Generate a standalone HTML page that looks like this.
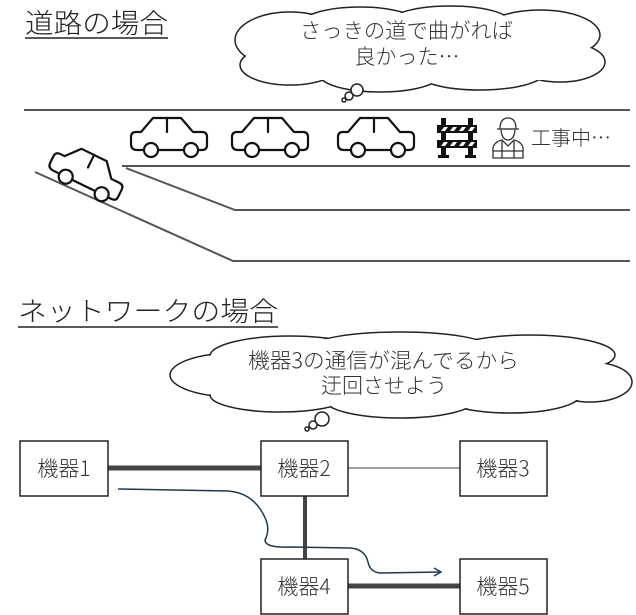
<!DOCTYPE html>
<html><head><meta charset="utf-8"><style>
body{margin:0;background:#fff;}
svg{display:block;font-family:"Noto Sans CJK JP","Liberation Sans",sans-serif;}
</style></head><body>
<svg width="636" height="615" viewBox="0 0 636 615" xmlns="http://www.w3.org/2000/svg">
<defs>
<g id="car" fill="none" stroke="#111" stroke-width="2.2" stroke-linejoin="round" stroke-linecap="round">
<path d="M14,34 L8,34 Q2,34 2,28 L2,21 Q2,16 7,16 L12,16 L24,2 L52,2 L64,16 L73,16 Q78,16 78,21 L78,29 Q78,34 73,34 L70,34"/>
<line x1="38" y1="2" x2="38" y2="16"/>
<line x1="29" y1="34" x2="55" y2="34"/>
<circle cx="22" cy="34" r="7" fill="#fff"/>
<circle cx="62" cy="34" r="7" fill="#fff"/>
</g>
</defs>
<!-- titles -->
<text x="25" y="33" font-size="27" font-weight="300" fill="#222" textLength="143" lengthAdjust="spacingAndGlyphs">道路の場合</text>
<line x1="25" y1="38" x2="168" y2="38" stroke="#222" stroke-width="1.5"/>
<text x="18" y="321" font-size="27" font-weight="300" fill="#222" textLength="260" lengthAdjust="spacingAndGlyphs">ネットワークの場合</text>
<line x1="18" y1="327" x2="278" y2="327" stroke="#222" stroke-width="1.5"/>

<!-- cloud 1 -->
<g stroke="#222" stroke-width="1.5" fill="#fff">
<g>
<ellipse cx="290" cy="40" rx="55" ry="28"/><ellipse cx="360" cy="25" rx="60" ry="18"/><ellipse cx="450" cy="22" rx="60" ry="16"/><ellipse cx="540" cy="35" rx="60" ry="25"/><ellipse cx="560" cy="62" rx="45" ry="20"/><ellipse cx="480" cy="72" rx="65" ry="18"/><ellipse cx="380" cy="75" rx="60" ry="17"/><ellipse cx="290" cy="65" rx="50" ry="20"/>
</g>
<g stroke="none">
<ellipse cx="290" cy="40" rx="54" ry="27"/><ellipse cx="360" cy="25" rx="59" ry="17"/><ellipse cx="450" cy="22" rx="59" ry="15"/><ellipse cx="540" cy="35" rx="59" ry="24"/><ellipse cx="560" cy="62" rx="44" ry="19"/><ellipse cx="480" cy="72" rx="64" ry="17"/><ellipse cx="380" cy="75" rx="59" ry="16"/><ellipse cx="290" cy="65" rx="49" ry="19"/>
<rect x="270" y="25" width="300" height="55"/>
</g>
<circle cx="357" cy="90" r="6"/><circle cx="349" cy="96" r="4"/><circle cx="344" cy="100" r="2"/>
</g>
<text x="300" y="38" font-size="21" font-weight="300" fill="#333" textLength="213" lengthAdjust="spacingAndGlyphs">さっきの道で曲がれば</text>
<text x="407" y="64" font-size="21" font-weight="300" fill="#333" text-anchor="middle">良かった…</text>

<!-- road -->
<g stroke="#555" stroke-width="2" fill="none">
<line x1="24" y1="110" x2="630" y2="110"/>
<polyline points="122,166 630,166"/>
<polyline points="126,168 235,210 630,210"/>
<polyline points="35,172 233,261 630,261"/>
</g>
<use href="#car" x="129" y="116"/>
<use href="#car" x="230" y="116"/>
<use href="#car" x="336" y="116"/>
<g transform="translate(88,172) rotate(26) translate(-40,-20)"><use href="#car"/></g>

<!-- barricade -->
<g fill="#111">
<rect x="441" y="118" width="5" height="39"/><rect x="468" y="118" width="5" height="39"/>
<rect x="437" y="125" width="40" height="8"/><rect x="437" y="140" width="40" height="8"/>
<rect x="438" y="155" width="11" height="3"/><rect x="465" y="155" width="11" height="3"/>
</g>
<g fill="#fff">
<polygon points="444,127 448,127 445,131 441,131"/><polygon points="453,127 457,127 454,131 450,131"/><polygon points="462,127 466,127 463,131 459,131"/><polygon points="471,127 475,127 472,131 468,131"/>
<polygon points="444,142 448,142 445,146 441,146"/><polygon points="453,142 457,142 454,146 450,146"/><polygon points="462,142 466,142 463,146 459,146"/><polygon points="471,142 475,142 472,146 468,146"/>
</g>
<!-- worker -->
<g fill="none" stroke="#333" stroke-width="1.3">
<path d="M500,129 Q500,118 508,118 Q516,118 516,129 Z"/><line x1="497" y1="129" x2="519" y2="129"/>
<path d="M501,130 Q502,140 508,140 Q514,140 515,130"/>
<path d="M493,158 L493,148 Q494,142 502,140 L508,146 L514,140 Q522,142 523,148 L523,158 Z"/>
<line x1="502" y1="141" x2="502" y2="158"/><line x1="514" y1="141" x2="514" y2="158"/><line x1="493" y1="151" x2="523" y2="151"/>
</g>
<text x="531" y="145" font-size="20" font-weight="300" fill="#333">工事中…</text>

<!-- cloud 2 -->
<g stroke="#222" stroke-width="1.5" fill="#fff">
<g>
<ellipse cx="235" cy="375" rx="65" ry="22"/><ellipse cx="290" cy="356" rx="80" ry="20"/><ellipse cx="400" cy="348" rx="90" ry="16"/><ellipse cx="530" cy="355" rx="85" ry="20"/><ellipse cx="590" cy="382" rx="42" ry="20"/><ellipse cx="510" cy="395" rx="70" ry="18"/><ellipse cx="400" cy="400" rx="75" ry="18"/><ellipse cx="280" cy="395" rx="70" ry="17"/>
</g>
<g stroke="none">
<ellipse cx="235" cy="375" rx="64" ry="21"/><ellipse cx="290" cy="356" rx="79" ry="19"/><ellipse cx="400" cy="348" rx="89" ry="15"/><ellipse cx="530" cy="355" rx="84" ry="19"/><ellipse cx="590" cy="382" rx="41" ry="19"/><ellipse cx="510" cy="395" rx="69" ry="17"/><ellipse cx="400" cy="400" rx="74" ry="17"/><ellipse cx="280" cy="395" rx="69" ry="16"/>
<rect x="230" y="345" width="360" height="55"/>
</g>
<circle cx="322" cy="419" r="7"/><circle cx="313" cy="425" r="4"/><circle cx="307" cy="429" r="2"/>
</g>
<text x="248" y="368" font-size="21" font-weight="300" fill="#333" textLength="271" lengthAdjust="spacingAndGlyphs">機器3の通信が混んでるから</text>
<text x="384" y="393" font-size="21" font-weight="300" fill="#333" text-anchor="middle">迂回させよう</text>

<!-- network links -->
<line x1="108" y1="468" x2="261" y2="468" stroke="#444" stroke-width="5"/>
<line x1="348" y1="468" x2="460" y2="468" stroke="#666" stroke-width="1.2"/>
<line x1="305" y1="496" x2="305" y2="559" stroke="#444" stroke-width="4"/>
<line x1="348" y1="586" x2="460" y2="586" stroke="#444" stroke-width="5"/>
<!-- boxes -->
<g fill="#fff" stroke="#222" stroke-width="1.5">
<rect x="20" y="441" width="88" height="55"/><rect x="261" y="441" width="87" height="55"/><rect x="460" y="441" width="87" height="55"/>
<rect x="261" y="559" width="87" height="55"/><rect x="460" y="559" width="87" height="55"/>
</g>
<g font-size="21" font-weight="300" fill="#333" text-anchor="middle">
<text x="64" y="476">機器1</text><text x="304" y="476">機器2</text><text x="503" y="476">機器3</text>
<text x="304" y="594">機器4</text><text x="503" y="594">機器5</text>
</g>
<!-- path arrow -->
<path d="M118,489 L228,491 Q255,493 266,520 Q270,530 265,540 Q265,548 290,547 L350,548 Q365,549 368,562 Q370,572 380,573 L440,572" fill="none" stroke="#1f3a4f" stroke-width="1.5"/>
<path d="M434,568 L441,572 L434,576" fill="none" stroke="#1f3a4f" stroke-width="1.5"/>
</svg>
</body></html>
